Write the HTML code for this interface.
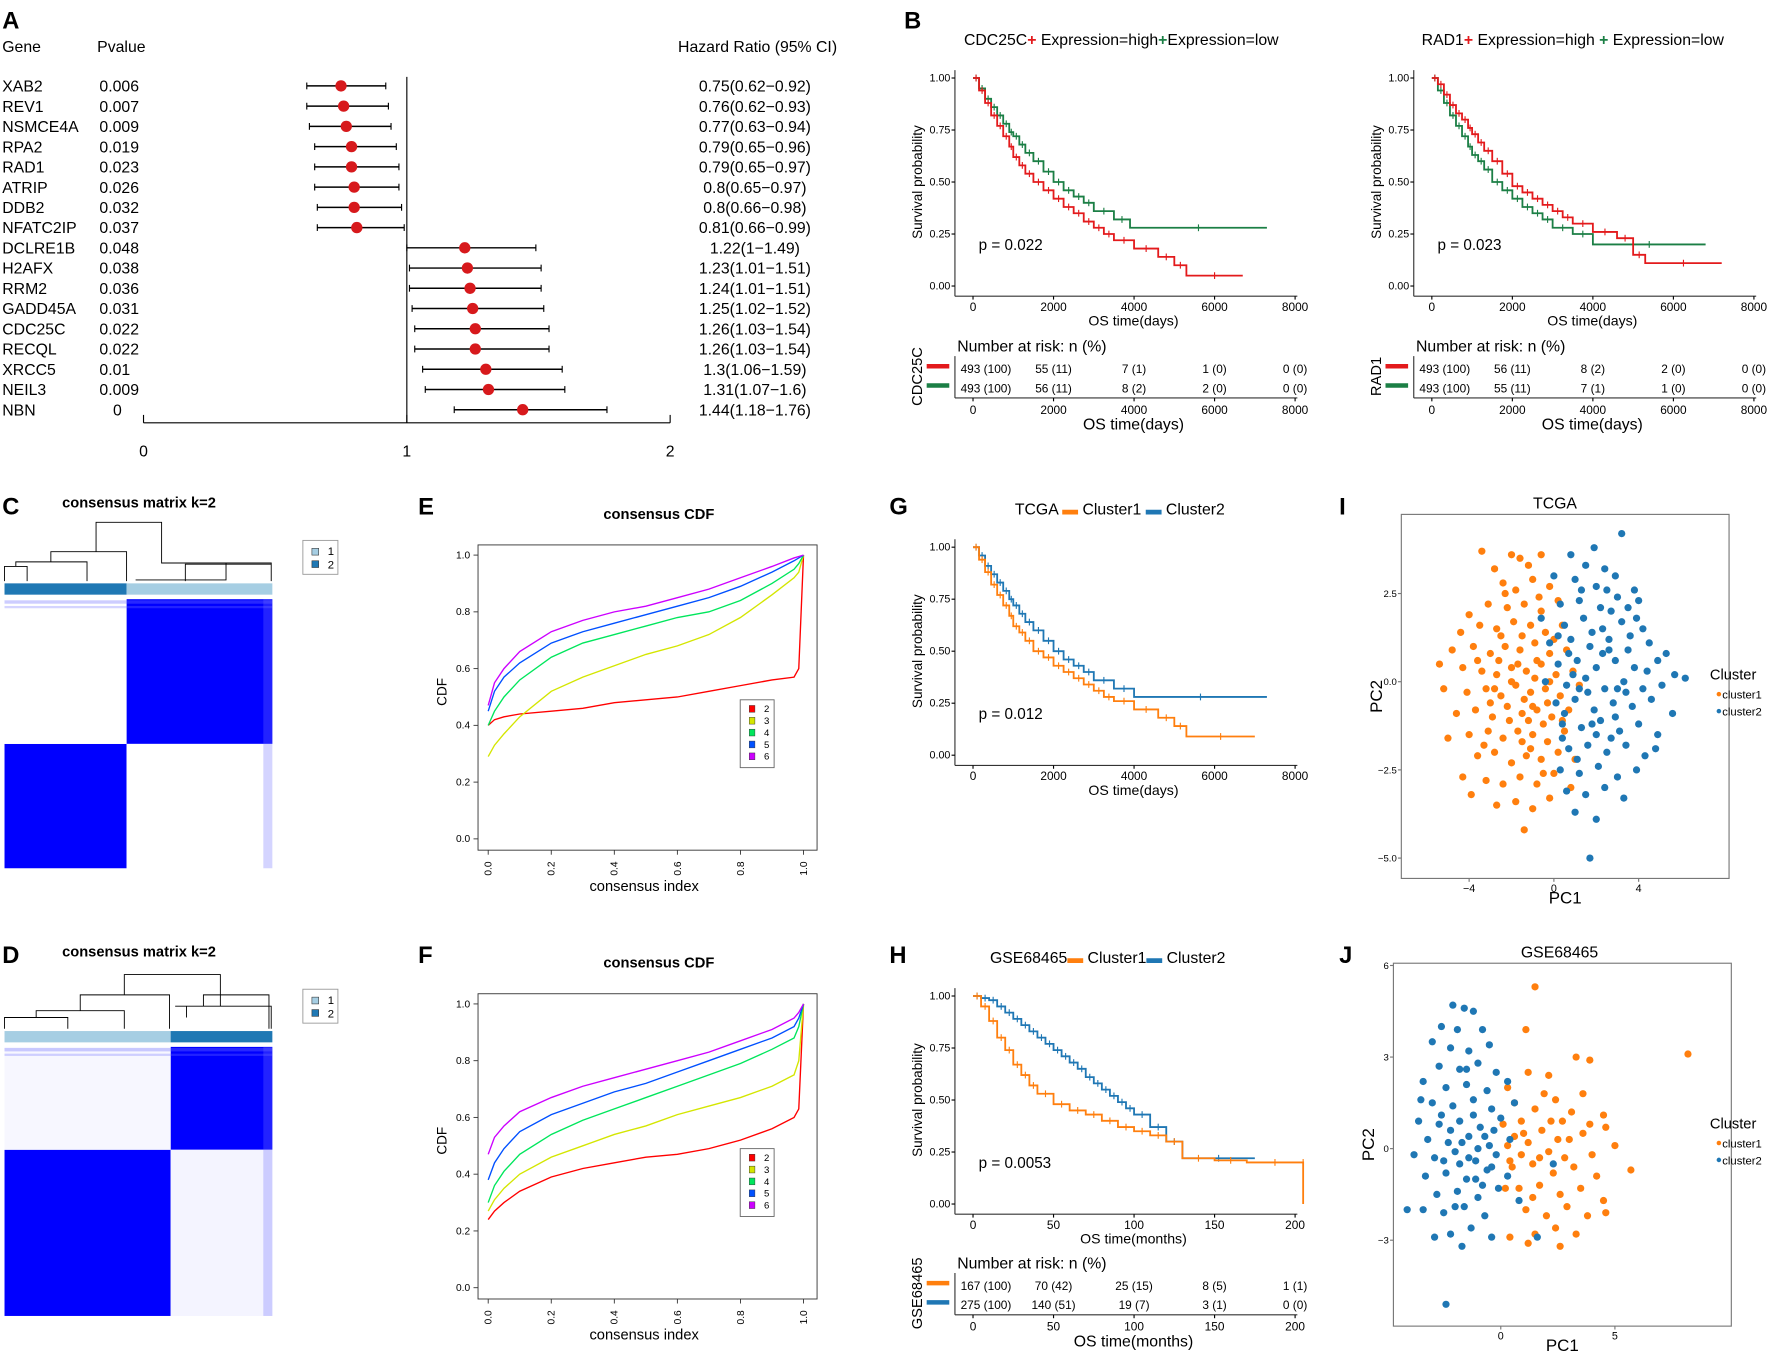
<!DOCTYPE html>
<html><head><meta charset="utf-8"><style>
html,body{margin:0;padding:0;background:#fff;}
svg{display:block;}
text{font-family:"Liberation Sans Narrow","Liberation Sans",Arial,sans-serif;fill:#000;}
.w{font-family:"Liberation Sans",Arial,sans-serif;}
</style></head><body>
<svg id="fig" xmlns="http://www.w3.org/2000/svg" width="1772" height="1351" viewBox="0 0 1568 1195" preserveAspectRatio="none"></svg>
<script>
// ---------- Panel A data ----------
const genes=["XAB2","REV1","NSMCE4A","RPA2","RAD1","ATRIP","DDB2","NFATC2IP","DCLRE1B","H2AFX","RRM2","GADD45A","CDC25C","RECQL","XRCC5","NEIL3","NBN"];
const pvals=["0.006","0.007","0.009","0.019","0.023","0.026","0.032","0.037","0.048","0.038","0.036","0.031","0.022","0.022","0.01","0.009","0"];
const hr=[0.75,0.76,0.77,0.79,0.79,0.8,0.8,0.81,1.22,1.23,1.24,1.25,1.26,1.26,1.3,1.31,1.44];
const lo=[0.62,0.62,0.63,0.65,0.65,0.65,0.66,0.66,1,1.01,1.01,1.02,1.03,1.03,1.06,1.07,1.18];
const hi=[0.92,0.93,0.94,0.96,0.97,0.97,0.98,0.99,1.49,1.51,1.51,1.52,1.54,1.54,1.59,1.6,1.76];
const hrTicks=[0,1,2];
// ---------- KM data ----------
const cdcHighT=[0,150,300,450,600,750,900,1000,1150,1300,1500,1750,2000,2250,2500,2750,3000,3250,3500,4000,4600,5000,5300,6700];
const cdcHighS=[1,0.94,0.88,0.82,0.77,0.72,0.67,0.62,0.58,0.54,0.5,0.46,0.42,0.38,0.35,0.31,0.28,0.25,0.22,0.18,0.14,0.1,0.05,0.05];
const cdcLowT=[0,150,300,450,600,750,900,1000,1150,1300,1500,1750,2000,2250,2500,2750,3000,3500,3900,7300];
const cdcLowS=[1,0.95,0.9,0.86,0.82,0.78,0.74,0.72,0.68,0.64,0.6,0.55,0.5,0.46,0.43,0.4,0.36,0.32,0.28,0.28];
const radHighT=[0,150,300,450,600,750,900,1000,1150,1300,1500,1750,2000,2250,2500,2750,3000,3250,3500,4000,4600,5000,5300,7200];
const radHighS=[1,0.97,0.92,0.87,0.83,0.8,0.76,0.73,0.69,0.65,0.6,0.54,0.48,0.45,0.42,0.39,0.36,0.33,0.3,0.26,0.23,0.15,0.11,0.11];
const radLowT=[0,150,300,450,600,750,900,1000,1150,1300,1500,1750,2000,2250,2500,2750,3000,3500,4000,6800];
const radLowS=[1,0.94,0.88,0.82,0.77,0.72,0.67,0.63,0.6,0.56,0.5,0.46,0.42,0.38,0.35,0.32,0.28,0.25,0.2,0.2];
const tcgaC1T=[0,150,300,450,600,750,900,1000,1150,1300,1500,1750,2000,2250,2500,2750,3000,3250,3500,4000,4600,5000,5300,7000];
const tcgaC1S=[1,0.94,0.88,0.82,0.77,0.72,0.67,0.62,0.59,0.55,0.5,0.47,0.43,0.4,0.37,0.34,0.31,0.28,0.26,0.22,0.18,0.14,0.09,0.09];
const tcgaC2T=[0,150,300,450,600,750,900,1000,1150,1300,1500,1750,2000,2250,2500,2750,3000,3500,4000,7300];
const tcgaC2S=[1,0.96,0.91,0.87,0.83,0.79,0.75,0.72,0.68,0.64,0.6,0.55,0.5,0.46,0.43,0.4,0.36,0.32,0.28,0.28];
const gseC1T=[0,5,10,15,20,25,30,35,40,50,60,70,80,90,100,110,120,130,150,170,205,205];
const gseC1S=[1,0.95,0.88,0.8,0.74,0.67,0.62,0.57,0.53,0.48,0.45,0.43,0.4,0.37,0.35,0.33,0.3,0.22,0.21,0.2,0.2,0];
const gseC2T=[0,5,10,15,20,25,30,35,40,45,50,55,60,65,70,75,80,85,90,95,100,110,120,130,175];
const gseC2S=[1,0.99,0.98,0.95,0.92,0.89,0.86,0.83,0.8,0.77,0.74,0.71,0.68,0.65,0.61,0.58,0.55,0.52,0.49,0.46,0.43,0.37,0.3,0.22,0.22];
const survTicks=[0,0.25,0.5,0.75,1];
const dayTicks=[0,2000,4000,6000,8000];
const monthTicks=[0,50,100,150,200];
const cdcRiskHigh=["493 (100)","55 (11)","7 (1)","1 (0)","0 (0)"];
const cdcRiskLow=["493 (100)","56 (11)","8 (2)","2 (0)","0 (0)"];
const radRiskHigh=["493 (100)","56 (11)","8 (2)","2 (0)","0 (0)"];
const radRiskLow=["493 (100)","55 (11)","7 (1)","1 (0)","0 (0)"];
const gseRisk1=["167 (100)","70 (42)","25 (15)","8 (5)","1 (1)"];
const gseRisk2=["275 (100)","140 (51)","19 (7)","3 (1)","0 (0)"];
// ---------- CDF data ----------
const cdfX=[0,0.02,0.05,0.1,0.2,0.3,0.4,0.5,0.6,0.7,0.8,0.9,0.97,0.985,1];
const eK2=[0.40,0.42,0.43,0.44,0.45,0.46,0.48,0.49,0.50,0.52,0.54,0.56,0.57,0.60,1];
const eK3=[0.29,0.33,0.37,0.43,0.52,0.57,0.61,0.65,0.68,0.72,0.78,0.86,0.92,0.94,1];
const eK4=[0.40,0.45,0.50,0.56,0.64,0.69,0.72,0.75,0.78,0.80,0.84,0.90,0.95,0.97,1];
const eK5=[0.45,0.52,0.57,0.62,0.69,0.73,0.76,0.79,0.82,0.85,0.89,0.94,0.98,0.99,1];
const eK6=[0.47,0.55,0.60,0.66,0.73,0.77,0.80,0.82,0.85,0.88,0.92,0.96,0.99,0.995,1];
const fK2=[0.24,0.27,0.30,0.34,0.39,0.42,0.44,0.46,0.47,0.49,0.52,0.56,0.60,0.63,1];
const fK3=[0.27,0.31,0.35,0.40,0.46,0.50,0.54,0.57,0.61,0.64,0.67,0.71,0.75,0.80,1];
const fK4=[0.30,0.36,0.41,0.47,0.54,0.59,0.63,0.67,0.71,0.75,0.79,0.84,0.88,0.92,1];
const fK5=[0.38,0.44,0.49,0.55,0.61,0.65,0.69,0.72,0.76,0.80,0.84,0.88,0.92,0.95,1];
const fK6=[0.47,0.53,0.57,0.62,0.67,0.71,0.74,0.77,0.80,0.83,0.87,0.91,0.95,0.97,1];
const cdfTicks=[0,0.2,0.4,0.6,0.8,1];
const cdfLabels=["0.0","0.2","0.4","0.6","0.8","1.0"];
// ---------- PCA data ----------
const tcgaC1=[[-4.4,1.4],[-3.4,3.7],[-2.8,3.2],[-2,3.6],[-1.6,3.5],[-1.2,3.3],[-0.6,3.6],[-2.4,2.8],[-1.8,2.6],[-1,2.9],[-0.2,2.7],[-3.1,2.2],[-2.2,2.1],[-1.4,2.2],[-0.6,2.0],[0.2,2.3],[-4.0,1.9],[-3.5,1.6],[-2.7,1.5],[-1.9,1.7],[-1.1,1.6],[-0.4,1.4],[0.4,1.6],[-4.8,0.9],[-3.8,1.0],[-3.0,0.8],[-2.3,1.0],[-1.6,0.9],[-0.9,1.1],[-0.2,0.8],[0.6,0.9],[-4.3,0.4],[-3.4,0.3],[-2.7,0.2],[-2.0,0.4],[-1.3,0.3],[-0.6,0.5],[0.1,0.2],[0.9,0.3],[-5.2,-0.2],[-4.1,-0.3],[-3.2,-0.2],[-2.5,-0.4],[-1.8,-0.1],[-1.1,-0.3],[-0.4,-0.2],[0.3,-0.4],[1.2,-0.1],[-4.6,-0.9],[-3.7,-0.8],[-2.9,-1.0],[-2.2,-0.7],[-1.5,-0.9],[-0.8,-0.8],[-0.1,-1.0],[0.7,-0.8],[-4.0,-1.5],[-3.1,-1.4],[-2.4,-1.6],[-1.7,-1.4],[-1.0,-1.5],[-0.3,-1.7],[0.5,-1.4],[-3.6,-2.1],[-2.8,-2.0],[-2.0,-2.3],[-1.3,-2.1],[-0.6,-2.2],[0.2,-2.0],[-4.3,-2.7],[-3.2,-2.8],[-2.4,-2.9],[-1.6,-2.7],[-0.8,-2.9],[0,-2.6],[-2.7,-3.5],[-1.8,-3.4],[-1.0,-3.6],[-0.2,-3.3],[-1.4,-4.2],[-3.9,-3.2],[-5.0,-1.6],[-5.4,0.5],[0.8,-3.0],[1.0,-2.2],[-2.6,0.6],[-1.4,-0.5],[-0.9,0.1],[-2.1,-1.1],[-0.5,-1.2],[-1.7,0.5],[-3.0,-0.6],[-0.2,0.0],[-1.1,-1.9],[-2.5,1.3],[-0.7,2.4],[-1.5,1.3],[-3.3,-1.8],[0.4,-1.1],[-1.2,-1.1],[-0.3,-0.6],[-2.0,0.0],[-0.8,0.6],[-1.5,-1.7],[-2.8,-0.2],[-0.5,-2.6],[-3.6,0.6],[-2.3,2.5],[-1.0,-0.7],[0.0,1.2]];
const tcgaC2=[[0.8,3.6],[1.5,3.3],[2.4,3.2],[3.2,4.2],[1.0,2.9],[2.0,2.7],[2.9,3.0],[3.8,2.6],[0.3,2.2],[1.2,2.3],[2.2,2.1],[3.0,2.4],[4.0,2.3],[0.5,1.6],[1.4,1.8],[2.3,1.5],[3.2,1.7],[4.2,1.5],[-0.2,1.1],[0.8,1.2],[1.7,1.0],[2.6,1.2],[3.5,0.9],[4.5,1.1],[0.2,0.5],[1.1,0.6],[2.0,0.4],[2.9,0.6],[3.8,0.4],[4.9,0.6],[5.7,0.2],[6.2,0.1],[-0.4,0.0],[0.6,-0.1],[1.5,0.1],[2.4,-0.2],[3.3,0.0],[4.2,-0.2],[5.1,-0.1],[0.1,-0.6],[1.0,-0.5],[1.9,-0.8],[2.8,-0.6],[3.7,-0.7],[4.6,-0.5],[5.6,-0.9],[0.4,-1.2],[1.3,-1.3],[2.2,-1.1],[3.1,-1.4],[4.0,-1.2],[4.9,-1.5],[0.7,-1.9],[1.6,-1.8],[2.5,-2.0],[3.4,-1.8],[4.3,-2.1],[0.3,-2.5],[1.2,-2.6],[2.1,-2.4],[3.0,-2.7],[3.9,-2.5],[0.6,-3.1],[1.5,-3.2],[2.4,-3.0],[3.3,-3.3],[1.0,-3.7],[2.0,-3.9],[1.7,-5.0],[-0.6,1.8],[0.0,3.0],[1.9,3.8],[2.7,2.0],[3.6,1.3],[1.6,-0.3],[2.6,0.9],[0.9,0.2],[3.4,-0.3],[2.0,-1.5],[1.1,-2.2],[4.4,0.3],[5.3,0.8],[0.2,1.3],[1.8,1.4],[2.9,-1.0],[0.5,-0.9],[3.9,1.8],[1.3,2.6],[2.5,2.6],[4.8,-1.9],[1.2,-0.2],[2.3,0.8],[3.0,-0.2],[0.7,0.8],[1.8,-1.2],[2.7,-1.6],[3.5,2.1],[0.4,-1.6]];
const gseC1=[[1.5,5.3],[1.1,3.9],[3.3,3.0],[8.2,3.1],[0.3,2.0],[1.2,2.5],[2.1,2.4],[3.9,2.9],[0.6,1.5],[1.5,1.3],[2.4,1.6],[3.6,1.8],[4.5,1.1],[0.1,0.8],[0.9,0.9],[1.8,0.6],[2.7,0.9],[3.6,0.5],[4.6,0.7],[0.3,0.1],[1.2,0.2],[2.1,-0.1],[3.0,0.3],[4.0,-0.2],[5.0,0.1],[0.5,-0.6],[1.4,-0.5],[2.3,-0.8],[3.2,-0.6],[4.2,-0.9],[5.7,-0.7],[0.8,-1.3],[1.7,-1.2],[2.6,-1.5],[3.5,-1.3],[4.5,-1.7],[1.1,-2.0],[2.0,-2.2],[2.9,-1.9],[3.8,-2.2],[4.6,-2.1],[1.5,-2.8],[2.4,-2.6],[3.3,-2.8],[0.4,-2.9],[2.6,-3.2],[1.2,-3.1],[0.9,-0.2],[1.9,1.8],[2.8,-0.3],[0.6,0.4],[1.4,-1.6],[3.1,1.2],[2.2,0.9],[0.2,-1.3],[3.9,0.8],[1.0,0.5],[1.7,-0.3],[0.4,-0.4],[2.5,0.3]];
const gseC2=[[-2.1,4.7],[-1.6,4.6],[-1.2,4.5],[-2.6,4.0],[-1.9,3.9],[-0.8,3.9],[-3.0,3.5],[-2.2,3.3],[-1.4,3.2],[-0.5,3.4],[-2.7,2.7],[-1.8,2.6],[-1.0,2.8],[-0.2,2.5],[-3.4,2.2],[-2.4,2.0],[-1.5,2.1],[-0.6,1.9],[0.3,2.2],[-3.0,1.5],[-2.1,1.4],[-1.2,1.6],[-0.4,1.3],[0.6,1.5],[-3.6,0.9],[-2.7,0.8],[-1.8,0.9],[-0.9,0.7],[0.0,1.0],[-3.2,0.3],[-2.3,0.2],[-1.4,0.4],[-0.5,0.1],[0.4,0.3],[-3.8,-0.2],[-2.9,-0.3],[-2.0,-0.1],[-1.1,-0.4],[-0.2,-0.2],[-3.3,-0.9],[-2.4,-0.8],[-1.5,-1.0],[-0.6,-0.7],[0.3,-0.9],[-2.8,-1.5],[-1.9,-1.4],[-1.0,-1.6],[-0.1,-1.3],[-3.4,-2.0],[-2.5,-2.1],[-1.6,-1.9],[-0.7,-2.2],[-2.2,-2.8],[-1.3,-2.6],[-0.4,-2.9],[-4.1,-2.0],[-2.9,-2.9],[-1.7,-3.2],[-2.4,-5.1],[-1.8,-0.5],[-1.2,1.1],[-2.6,1.1],[-0.8,-1.2],[-2.0,-1.9],[-1.5,2.6],[-0.3,0.6],[-3.5,1.6],[1.6,-2.9],[2.3,-0.5],[0.8,-1.7],[-1.0,0.0],[-2.2,0.6],[-1.4,-0.3],[-0.7,0.4],[-2.5,-0.4],[-1.1,-1.0],[-1.7,0.2],[-0.4,-0.6]];
const tcgaXTicks=[-4,0,4];
const tcgaYTicks=[2.5,0,-2.5,-5];
const tcgaYLabels=["2.5","0.0","\u22122.5","\u22125.0"];
const gseXTicks=[0,5];
const gseYTicks=[6,3,0,-3];

const NS="http://www.w3.org/2000/svg";
const svg=document.getElementById('fig');
function mk(tag,attrs,name,parent){
  const el=document.createElementNS(NS,tag);
  for(const k in attrs) el.setAttribute(k,attrs[k]);
  
  
  (parent||svg).appendChild(el);
  return el;
}
function T(x,y,s,size,name,opt){
  opt=opt||{};
  const a={x:x,y:y,'font-size':size};
  if(opt.anchor) a['text-anchor']=opt.anchor;
  if(opt.weight) a['font-weight']=opt.weight;
  if(opt.rot!==undefined) a.transform='rotate('+opt.rot+' '+x+' '+y+')';
  if(opt.cls) a['class']=opt.cls;
  if(opt.fill) a.fill=opt.fill;
  const el=mk('text',a,name);
  el.textContent=s;
  return el;
}
function L(x1,y1,x2,y2,name,stroke,w){
  return mk('line',{x1:x1,y1:y1,x2:x2,y2:y2,stroke:stroke||'#000','stroke-width':w||1},name);
}
const RED="#e31a1c",GREEN="#1b7f45",ORANGE="#ff7f0e",BLUE="#1f77b4";

// ================= Panel A =================
T(2,25,"A",21,"panel-label-a",{weight:'bold',cls:'w'});
T(2,46,"Gene",14,"gene-header");
T(86,46,"Pvalue",14,"pvalue-header");
T(600,46,"Hazard Ratio (95% CI)",14,"hr-header");
const ax=v=>127+v*233;
const ay=i=>76+i*17.9;
L(ax(1),68,ax(1),374,"reference-line");
L(ax(0),374,ax(2),374,"hr-axis-line");
hrTicks.forEach(v=>{
  L(ax(v),367,ax(v),374,"hr-tick");
  T(ax(v),404,String(v),14,"hr-tick-label",{anchor:'middle'});
});
genes.forEach((g,i)=>{
  const y=ay(i);
  T(2,y+5,g,14,"gene-label");
  T(pvals[i]==="0"?100:88,y+5,pvals[i],14,"pvalue-label");
  L(ax(lo[i]),y,ax(hi[i]),y,"ci-line",'#000',1.3);
  L(ax(lo[i]),y-3,ax(lo[i]),y+3,"ci-cap");
  L(ax(hi[i]),y-3,ax(hi[i]),y+3,"ci-cap");
  mk('circle',{cx:ax(hr[i]),cy:y,r:5,fill:'#d7191c'},"hr-point");
  T(668,y+5,hr[i]+"("+lo[i]+"\u2212"+hi[i]+")",14,"hr-ci-label",{anchor:'middle'});
});

// ================= KM helper =================
function km(o){
  const xs=t=>o.x0+t*o.xs, ys=s=>o.y0-s*184;
  L(o.x0-16,o.y0-191,o.x0-16,o.y0+9,"y-axis-line",'#333');
  L(o.x0-16,o.y0+9,o.x0+287,o.y0+9,"x-axis-line",'#333');
  survTicks.forEach(s=>{
    L(o.x0-19,ys(s),o.x0-16,ys(s),"y-tick");
    T(o.x0-20,ys(s)+3,s.toFixed(2),9.5,"y-tick-label",{anchor:'end'});
  });
  o.ticks.forEach(t=>{
    L(xs(t),o.y0+9,xs(t),o.y0+12,"x-tick");
    T(xs(t),o.y0+22,String(t),10.5,"x-tick-label",{anchor:'middle'});
  });
  T(o.x0+142,o.y0+35,o.xlab,12.5,"x-axis-title",{anchor:'middle'});
  T(o.x0-45,o.y0-92,"Survival probability",12,"y-axis-title",{anchor:'middle',rot:-90,cls:'w'});
  T(o.x0+5,o.y0-32,o.p,13.5,"p-value-label");
  o.series.forEach(sr=>{
    let d="M"+xs(sr.t[0])+","+ys(sr.s[0]);
    for(let i=1;i<sr.t.length;i++){d+=" H"+xs(sr.t[i])+" V"+ys(sr.s[i]);}
    mk('path',{d:d,fill:'none',stroke:sr.c,'stroke-width':1.6},sr.name);
    for(let i=1;i<sr.t.length;i++){
      const cx=(xs(sr.t[i-1])+xs(sr.t[i]))/2, cy=ys(sr.s[i-1]);
      L(cx,cy-3,cx,cy+3,"censor-mark",sr.c,1);
    }
  });
}
function legendTitle(x,y,parts,name){
  const el=mk('text',{x:x,y:y,'font-size':14},name);
  parts.forEach(p=>{
    const ts=document.createElementNS(NS,'tspan');
    
    
    if(p.c){ts.setAttribute('fill',p.c);ts.setAttribute('font-weight','bold');}
    ts.textContent=p.s;
    el.appendChild(ts);
  });
}
function riskTable(o){
  const xs=t=>o.x0+t*o.xs;
  T(o.x0-14,o.y0+5,"Number at risk: n (%)",14,"risk-table-title");
  L(o.x0-16,o.y0+9,o.x0-16,o.y0+46,"risk-y-axis",'#333');
  L(o.x0-16,o.y0+46,o.x0+287,o.y0+46,"risk-x-axis",'#333');
  L(o.x0-41,o.y0+18,o.x0-21,o.y0+18,"risk-legend-line",o.c1,4);
  L(o.x0-41,o.y0+35,o.x0-21,o.y0+35,"risk-legend-line",o.c2,4);
  T(o.x0-45,o.y0+27,o.name,13,"risk-group-label",{anchor:'middle',rot:-90,cls:'w'});
  [o.r1,o.r2].forEach((row,j)=>{
    row.forEach((v,i)=>{
      const x=xs(o.ticks[i]);
      if(i===0) T(x-11,o.y0+24+j*17,v,10.5,"risk-value");
      else T(x,o.y0+24+j*17,v,10.5,"risk-value",{anchor:'middle'});
    });
  });
  o.ticks.forEach(t=>{
    L(xs(t),o.y0+46,xs(t),o.y0+49,"risk-x-tick");
    T(xs(t),o.y0+60,String(t),10.5,"risk-x-tick-label",{anchor:'middle'});
  });
  T(o.x0+142,o.y0+74,o.xlab,14,"risk-x-title",{anchor:'middle'});
}

// ================= Panel B =================
T(800,25,"B",21,"panel-label-b",{weight:'bold',cls:'w'});
legendTitle(853,40,[{s:"CDC25C"},{s:"+",c:RED},{s:" Expression=high"},{s:"+",c:GREEN},{s:"Expression=low"}],"legend-cdc25c");
km({x0:861,y0:253,xs:285/8000,ticks:dayTicks,xlab:"OS time(days)",p:"p = 0.022",
  series:[{t:cdcLowT,s:cdcLowS,c:GREEN,name:"km-cdc25c-low"},{t:cdcHighT,s:cdcHighS,c:RED,name:"km-cdc25c-high"}]});
riskTable({x0:861,y0:306,xs:285/8000,ticks:dayTicks,xlab:"OS time(days)",name:"CDC25C",c1:RED,c2:GREEN,r1:cdcRiskHigh,r2:cdcRiskLow});
legendTitle(1258,40,[{s:"RAD1"},{s:"+",c:RED},{s:" Expression=high "},{s:"+",c:GREEN},{s:" Expression=low"}],"legend-rad1");
km({x0:1267,y0:253,xs:285/8000,ticks:dayTicks,xlab:"OS time(days)",p:"p = 0.023",
  series:[{t:radLowT,s:radLowS,c:GREEN,name:"km-rad1-low"},{t:radHighT,s:radHighS,c:RED,name:"km-rad1-high"}]});
riskTable({x0:1267,y0:306,xs:285/8000,ticks:dayTicks,xlab:"OS time(days)",name:"RAD1",c1:RED,c2:GREEN,r1:radRiskHigh,r2:radRiskLow});

// ================= Panel G / H =================
T(787,455,"G",21,"panel-label-g",{weight:'bold',cls:'w'});
legendTitle(898,455,[{s:"TCGA "},{s:"\u25ac",c:ORANGE},{s:" Cluster1 "},{s:"\u25ac",c:BLUE},{s:" Cluster2"}],"legend-tcga");
km({x0:861,y0:668,xs:285/8000,ticks:dayTicks,xlab:"OS time(days)",p:"p = 0.012",
  series:[{t:tcgaC2T,s:tcgaC2S,c:BLUE,name:"km-tcga-cluster2"},{t:tcgaC1T,s:tcgaC1S,c:ORANGE,name:"km-tcga-cluster1"}]});
T(787,852,"H",21,"panel-label-h",{weight:'bold',cls:'w'});
legendTitle(876,852,[{s:"GSE68465"},{s:"\u25ac",c:ORANGE},{s:" Cluster1"},{s:"\u25ac",c:BLUE},{s:" Cluster2"}],"legend-gse");
km({x0:861,y0:1065,xs:285/200,ticks:monthTicks,xlab:"OS time(months)",p:"p = 0.0053",
  series:[{t:gseC2T,s:gseC2S,c:BLUE,name:"km-gse-cluster2"},{t:gseC1T,s:gseC1S,c:ORANGE,name:"km-gse-cluster1"}]});
riskTable({x0:861,y0:1117,xs:285/200,ticks:monthTicks,xlab:"OS time(months)",name:"GSE68465",c1:ORANGE,c2:BLUE,r1:gseRisk1,r2:gseRisk2});

// ================= Consensus matrices C / D =================
function consensus(o){
  T(123,o.top,"consensus matrix k=2",13,"heatmap-title",{anchor:'middle',weight:'bold'});
  mk('path',{d:o.dend,fill:'none',stroke:'#000','stroke-width':0.8},"dendrogram");
  mk('rect',{x:4,y:o.bar,width:o.split-4,height:10,fill:o.c1},"cluster-bar");
  mk('rect',{x:o.split,y:o.bar,width:241-o.split,height:10,fill:o.c2},"cluster-bar");
  const my=o.bar+14, mh=238;
  mk('rect',{x:4,y:my,width:237,height:mh,fill:'#fff'},"heatmap-bg");
  mk('rect',{x:o.split,y:my,width:241-o.split,height:o.hsplit-my,fill:'#0000ff'},"heatmap-block-top-right");
  mk('rect',{x:4,y:o.hsplit,width:o.split-4,height:my+mh-o.hsplit,fill:'#0000ff'},"heatmap-block-bottom-left");
  mk('rect',{x:4,y:my,width:o.split-4,height:o.hsplit-my,fill:o.n1},"heatmap-block-top-left");
  mk('rect',{x:o.split,y:o.hsplit,width:241-o.split,height:my+mh-o.hsplit,fill:o.n2},"heatmap-block-bottom-right");
  mk('rect',{x:233,y:my,width:8,height:mh,fill:'#6f6fff',opacity:0.3},"heatmap-edge-stripe");
  mk('rect',{x:4,y:my+1,width:237,height:3,fill:'#6f6fff',opacity:0.35},"heatmap-edge-stripe");
  mk('rect',{x:4,y:my+6,width:237,height:2,fill:'#6f6fff',opacity:0.3},"heatmap-edge-stripe");
  mk('rect',{x:268,y:o.leg,width:31,height:30,fill:'#fff',stroke:'#999','stroke-width':0.8},"heatmap-legend-box");
  mk('rect',{x:276,y:o.leg+7,width:6,height:6,fill:'#a6cee3',stroke:'#333','stroke-width':0.5},"legend-swatch-1");
  T(290,o.leg+13,"1",10,"legend-label-1");
  mk('rect',{x:276,y:o.leg+18,width:6,height:6,fill:'#1f78b4',stroke:'#333','stroke-width':0.5},"legend-swatch-2");
  T(290,o.leg+25,"2",10,"legend-label-2");
}
T(2,455,"C",21,"panel-label-c",{weight:'bold',cls:'w'});
consensus({top:449,bar:516,split:112,hsplit:658,c1:'#1f78b4',c2:'#a6cee3',n1:'#fff',n2:'#fff',leg:478,
  dend:"M4,514 V501 H24 V514 M14,501 V497 H77 V514 M45,497 V488 H112 V514 M240,514 V499 H164 V514 M85,488 V462 H143 V498 H200 V513 H120 M143,498 H240 V513"});
T(2,852,"D",21,"panel-label-d",{weight:'bold',cls:'w'});
consensus({top:846,bar:912,split:151,hsplit:1017,c1:'#a6cee3',c2:'#1f78b4',n1:'#f7f7ff',n2:'#f4f4ff',leg:875,
  dend:"M4,910 V900 H60 V910 M32,900 V894 H110 V910 M71,894 V880 H150 V910 M110,880 V862 H195 V890 M180,890 V880 H238 V910 M155,890 H240 V910 M165,900 V890"});

// ================= CDF E / F =================
function cdf(o){
  T(583,o.top,"consensus CDF",13,"cdf-title",{anchor:'middle',weight:'bold'});
  const bx=423,by=o.top+23,bw=300,bh=270;
  mk('rect',{x:bx,y:by,width:bw,height:bh,fill:'none',stroke:'#333','stroke-width':0.8},"cdf-plot-box");
  const xs=v=>432+v*279, ys=c=>by+260-c*251;
  cdfTicks.forEach((v,i)=>{
    L(bx,ys(v),bx-4,ys(v),"y-tick",'#333',0.8);
    T(bx-7,ys(v)+3,cdfLabels[i],9,"y-tick-label",{anchor:'end'});
    L(xs(v),by+bh,xs(v),by+bh+4,"x-tick",'#333',0.8);
    T(xs(v)+3,by+bh+10,cdfLabels[i],9,"x-tick-label",{anchor:'end',rot:-90});
  });
  T(570,by+bh+36,"consensus index",13,"x-axis-title",{anchor:'middle'});
  T(395,by+130,"CDF",12,"y-axis-title",{anchor:'middle',rot:-90,cls:'w'});
  const cols=['#ff0000','#d4e600','#00e65c','#0050ff','#cc00ff'];
  o.series.forEach((s,k)=>{
    let d="";
    cdfX.forEach((v,i)=>{d+=(i?" L":"M")+xs(v)+","+ys(s[i]);});
    mk('path',{d:d,fill:'none',stroke:cols[k],'stroke-width':1.2},"cdf-line-k"+(k+2));
  });
  const ly=o.top+160;
  mk('rect',{x:655,y:ly,width:30,height:60,fill:'#fff',stroke:'#666','stroke-width':0.8},"cdf-legend-box");
  cols.forEach((c,k)=>{
    mk('rect',{x:663,y:ly+5+k*10.5,width:5,height:6,fill:c,stroke:'#333','stroke-width':0.4},"cdf-legend-swatch");
    T(676,ly+11+k*10.5,String(k+2),8.5,"cdf-legend-label");
  });
}
T(370,455,"E",21,"panel-label-e",{weight:'bold',cls:'w'});
cdf({top:459,series:[eK2,eK3,eK4,eK5,eK6]});
T(370,852,"F",21,"panel-label-f",{weight:'bold',cls:'w'});
cdf({top:856,series:[fK2,fK3,fK4,fK5,fK6]});

// ================= PCA I / J =================
function pca(o){
  T(o.tx,o.top,o.title,14,"pca-title",{anchor:'middle'});
  mk('rect',{x:o.bx,y:o.by,width:o.bw,height:o.bh,fill:'none',stroke:'#777','stroke-width':1},"pca-plot-box");
  const xs=v=>o.x0+v*o.kx, ys=v=>o.y0-v*o.ky;
  o.xt.forEach(v=>{
    L(xs(v),o.by+o.bh,xs(v),o.by+o.bh+3,"x-tick",'#777');
    T(xs(v),o.by+o.bh+12,v<0?"\u2212"+(-v):String(v),9.5,"x-tick-label",{anchor:'middle',fill:'#444'});
  });
  o.yt.forEach((v,i)=>{
    L(o.bx-3,ys(v),o.bx,ys(v),"y-tick",'#777');
    T(o.bx-4,ys(v)+3,o.yl[i],8.5,"y-tick-label",{anchor:'end',fill:'#444'});
  });
  T(o.bx+o.bw/2,o.by+o.bh+22,"PC1",15,"x-axis-title",{anchor:'middle',cls:'w'});
  T(o.bx-17,o.by+o.bh/2,"PC2",15,"y-axis-title",{anchor:'middle',rot:-90,cls:'w'});
  o.c1.forEach(p=>mk('circle',{cx:xs(p[0]),cy:ys(p[1]),r:3.2,fill:ORANGE},"point-cluster1"));
  o.c2.forEach(p=>mk('circle',{cx:xs(p[0]),cy:ys(p[1]),r:3.2,fill:BLUE},"point-cluster2"));
  T(o.lx,o.ly,"Cluster",13,"legend-title",{cls:'w'});
  mk('circle',{cx:o.lx+8,cy:o.ly+13,r:2,fill:ORANGE},"legend-dot-cluster1");
  T(o.lx+11,o.ly+17,"cluster1",10,"legend-label-cluster1",{cls:'w'});
  mk('circle',{cx:o.lx+8,cy:o.ly+28,r:2,fill:BLUE},"legend-dot-cluster2");
  T(o.lx+11,o.ly+32,"cluster2",10,"legend-label-cluster2",{cls:'w'});
}
T(1185,455,"I",21,"panel-label-i",{weight:'bold',cls:'w'});
pca({title:"TCGA",tx:1376,top:450,bx:1240,by:455,bw:290,bh:322,x0:1375,kx:18.75,y0:603,ky:31.2,
  xt:tcgaXTicks,yt:tcgaYTicks,yl:tcgaYLabels,c1:tcgaC1,c2:tcgaC2,lx:1513,ly:601});
T(1185,852,"J",21,"panel-label-j",{weight:'bold',cls:'w'});
pca({title:"GSE68465",tx:1380,top:847,bx:1233,by:852,bw:299,bh:321,x0:1328,kx:20.2,y0:1016,ky:27,
  xt:gseXTicks,yt:gseYTicks,yl:gseYTicks.map(v=>v<0?"\u2212"+(-v):String(v)),c1:gseC1,c2:gseC2,lx:1513,ly:998});
</script>
</body></html>
